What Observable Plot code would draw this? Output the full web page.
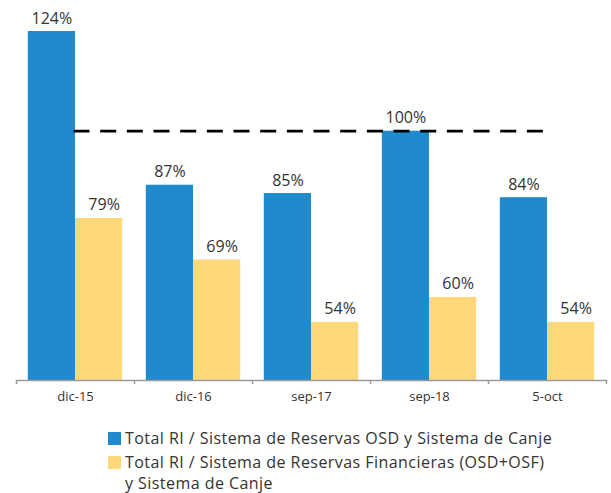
<!DOCTYPE html>
<html>
<head>
<meta charset="utf-8">
<script src="https://cdn.jsdelivr.net/npm/d3@7"></script>
<script src="https://cdn.jsdelivr.net/npm/@observablehq/plot@0.6"></script>
<style>
  html, body { margin: 0; padding: 0; background: #fff; }
  body { width: 611px; height: 493px; position: relative; overflow: hidden; font-family: "Open Sans", sans-serif; }
  #chart { position: absolute; left: 0; top: 0; }
  #legend { position: absolute; left: 108px; top: 428px; display: inline-flex; flex-direction: column; color: #333; font-size: 16px; line-height: 21px; letter-spacing: 0.45px; }
  .item { display: flex; align-items: flex-start; }
  .item + .item { margin-top: 3px; }
  .sw { width: 13px; height: 13px; flex: none; margin-top: 4px; margin-right: 4px; }
  .item:first-child .lbl { white-space: nowrap; }
  .item:nth-child(2) .lbl { width: 0; min-width: calc(100% - 17px); }
</style>
</head>
<body>
<div id="chart"></div>
<div id="legend"></div>
<script>
// ---- data ----
const categories = ["dic-15", "dic-16", "sep-17", "sep-18", "5-oct"];
const seriesNames = [
  "Total RI / Sistema de Reservas OSD y Sistema de Canje",
  "Total RI / Sistema de Reservas Financieras (OSD+OSF) y Sistema de Canje"
];
const osdValues = [124, 87, 85, 100, 84];
const financierasValues = [79, 69, 54, 60, 54];
const referenceLevel = [100];
const yDomain = [40, 124];
const seriesColors = ["#1F8BCD", "#FFD87C"];

const rows = [];
categories.forEach((c, i) => {
  rows.push({cat: c, series: seriesNames[0], value: osdValues[i], k: 0});
  rows.push({cat: c, series: seriesNames[1], value: financierasValues[i], k: 1});
});

const W = 611, H = 420, mL = 16, mR = 5;
const step = (W - mL - mR) / categories.length;
const half = step * 0.8 / 2;
const font = "'Open Sans', sans-serif";

const plot = Plot.plot({
  width: W,
  height: H,
  marginLeft: mL,
  marginRight: mR,
  marginTop: 31,
  marginBottom: 40,
  style: {fontFamily: font, background: "#fff", overflow: "visible"},
  x: {domain: categories, paddingInner: 0.2, paddingOuter: 0.1, round: false, axis: null, label: null},
  y: {domain: yDomain, axis: null, label: null},
  marks: [
    Plot.barY(rows.filter(d => d.k === 0), {x: "cat", y1: yDomain[0], y2: "value", fill: seriesColors[0], insetRight: half}),
    Plot.barY(rows.filter(d => d.k === 1), {x: "cat", y1: yDomain[0], y2: "value", fill: seriesColors[1], insetLeft: half}),
    Plot.ruleY([yDomain[0]], {stroke: "#9a9a9a", strokeWidth: 1.5}),
    Plot.ruleX(categories, {x: d => d, y1: yDomain[0], y2: yDomain[0], insetBottom: -4, dx: -step / 2, stroke: "#9a9a9a", strokeWidth: 1.5}),
    Plot.ruleX(categories.slice(-1), {x: d => d, y1: yDomain[0], y2: yDomain[0], insetBottom: -4, dx: step / 2, stroke: "#9a9a9a", strokeWidth: 1.5}),
    Plot.axisX({tickSize: 0, tickPadding: 11, fontSize: 13, fill: "#333", label: null}),
    Plot.ruleY(referenceLevel, {x1: () => categories[0], x2: () => categories[categories.length - 1], insetLeft: half - 1.5, insetRight: half, stroke: "#000", strokeWidth: 2.75, strokeDasharray: "16,10.67"}),
    Plot.text(rows.filter(d => d.k === 0), {x: "cat", y: "value", text: d => d.value + "%", dx: -half / 2, dy: -8, lineAnchor: "bottom", fontSize: 16, fill: "#333"}),
    Plot.text(rows.filter(d => d.k === 1), {x: "cat", y: "value", text: d => d.value + "%", dx: half / 2 + 5, dy: -8, lineAnchor: "bottom", fontSize: 16, fill: "#333"})
  ]
});
document.getElementById("chart").appendChild(plot);

const legend = d3.select("#legend");
seriesNames.forEach((name, i) => {
  const it = legend.append("div").attr("class", "item");
  it.append("div").attr("class", "sw").style("background", seriesColors[i]);
  it.append("div").attr("class", "lbl").text(name);
});
</script>
</body>
</html>
